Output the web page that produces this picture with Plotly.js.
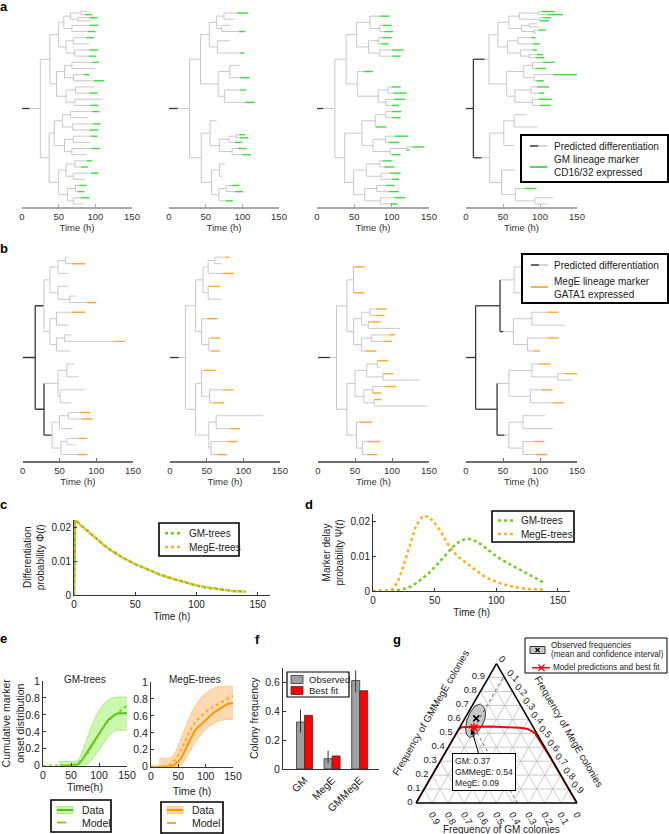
<!DOCTYPE html>
<html><head><meta charset="utf-8">
<script src="https://cdn.plot.ly/plotly-3.0.1.min.js"></script>
<style>html,body{margin:0;padding:0;background:#fff}#chart{width:669px;height:834px}</style>
</head><body><div id="chart"></div>
<script>
// ================= DATA =================
// Lineage trees: internal cell = [end time, upper daughter, lower daughter]
// leaf = end time, or [end time, marker onset time]
const treeA1 = [25,
 [38,
  [50,
   [57, [66, [80, 88, [96,86]], [76, [103,92], 94]], [68, [104,92], [100,90]]],
   [60, [70, [98,88], 92], [72, [104,92], [101,91]]]],
  [47,
   [58, [68, [105,96], 100], [70, [92,84], [112,98]]],
   [60, [73, 100, [103,92]], [72, 110, [104,93]]]]],
 [37,
  [44,
   [55, [66, [106,96], 90], [69, [107,97], [104,92]]],
   [58, [70, [103,94], 93], [68, [106,95], 88]]],
  [50,
   [60, [72, [96,88], [90,80]], [70, [104,94], 86]],
   [62, [73, [88,78], [85,76]], [70, [92,80], 84]]]]];
const treeA2 = [28,
 [43,
  [55, [65, [75, [108,93], 90], [72, 84, [104,95]]], [66, 83, [103,97]]],
  [67, [83, 96, [110,97]], [76, [105,97], [117,104]]]],
 [44,
  [56, 65, [69, [82, [92, [104,96], [108,97]], [100,90]], [86, [106,94], [112,100]]]],
  [58, [69, 77, 73], [68, [78, [96,86], [101,90]], [87,77]]]]];
const treeA3 = [24,
 [39,
  [53, [71, [97,85], [84, [100,88], [102,90]]], [69, [82, [100,88], [96,86]], [84, [116,100], [112,101]]]],
  [54, [75,62], [82, [95, [112,100], [120,102]], [92, [118,104], [110,100]]]]],
 [37,
  [60, [78, [92, [113,100], [112,100]], [93,79]], [75, [92, [122,104], [110,96]], [98, [120, [144,128], [124,110]], [112,100]]]],
  [49, [66, [84, [100,88], [104,90]], [86, [112,98], [110,100]]], [64, [80, [104,92], [110,96]], [85, [118,104], [108,98]]]]]];
const treeA4 = [10,
 [31,
  [43,
   [58, [72, [98, [120,102], [131,110]], [100, [115,104], [112,100]]], [75, [86, 96, 99], [92, [108,98], 95]]],
   [56, [70, [94,88], [100,90]], [74, [96,90], [85, [104,96], [106,94]]]]],
  [55,
   [78, [90, [120,104], [108,94]], [92, [150,118], [105,95]]],
   [66, [88, [112,96], [106,98]], [90, [116,98], [114,100]]]]],
 [32, [51, [65, 82, 97], 65], [48, 65, [67, [95,80], [93, 118, 111]]]]];
const treeB1 = [17,
 [29, [37, [48, [58, 61, [85,67]], 62], [48, 62, [64, 72, [100,87]]]],
      [37, [46, [85,67], 62], [46, [57, 66, [139,123]], 64]]],
 [29, [48, [60, 70, 76], [51, 84, 66]],
      [40, [50, [62, [92,78], [95,80]], 68], [52, [60, [88,75], 72], [88,75]]]]];
const treeB2 = [21,
 [35, [45, [52, [61, [81,76], 70], [87,72]], [52, [68,52], 70]],
      [43, [65,50], [53, [68,56], [68,56]]]],
 [35, [43, [63,46], [54, [87,72], [74,60]]],
      [53, [63, 127, [95,82]], [56, [92,78], [78,64]]]]];
const treeB3 = [25,
 [39, [48, [63,48], [63,48]],
      [48, [59, [70, [93,78], [90,78]], [68, [85,68], 111]], [59, [72, [104,96], [100,88]], [79,64]]]],
 [39, [50, [66, [80, [95,79], 84], [88, [102,88], 137]], [62, [74, [106,90], [86,70]], [76, [86,70], 148]]],
      [52, [73,56], [60, [84,67], [80,66]]]]];
const treeB4 = [13,
 [46, [65, [75, 90, 88], [75, 92, 86]],
      [64, [89, [125,110], 134], [83, [125,110], [100,91]]]],
 [42, [58, [89, [114,98], [124, [150,134], 143]], [87, [117,102], [132,117]]],
      [58, [77, 107, 118], [77, [106,91], [110,94]]]]];
// predicted differentiation (dark) segments: cell id -> dark until time
const darkA1Cells = [1],        darkA1Until = [10];
const darkA2Cells = [1],        darkA2Until = [12];
const darkA3Cells = [1],        darkA3Until = [8];
const darkA4Cells = [1,2,3],    darkA4Until = [10,25,21];
const darkB1Cells = [1,2,3,7],  darkB1Until = [17,28,29,39];
const darkB2Cells = [1],        darkB2Until = [12];
const darkB3Cells = [1],        darkB3Until = [16];
const darkB4Cells = [1,2,3,5,7],darkB4Until = [13,46,42,50,52];
const treeTicks = [0,50,100,150];

// c: differentiation probability
const phiTime = [0,1,2,5,10,15,20,25,30,40,50,60,70,80,90,100,110,120,130,140];
const phiGM   = [0,0.0224,0.0222,0.021,0.0195,0.0178,0.0162,0.0147,0.0134,0.0111,0.0092,0.0076,0.0061,0.0049,0.0038,0.0028,0.0021,0.0016,0.0012,0.001];
const phiMegE = [0,0.0223,0.0221,0.0209,0.0194,0.0178,0.0162,0.0147,0.0134,0.0111,0.0092,0.0076,0.0061,0.0049,0.0038,0.0029,0.0022,0.0016,0.0012,0.001];
// d: marker delay probability
const psiTime = [0,5,10,15,20,25,30,35,40,45,50,55,60,65,70,75,80,85,90,95,100,105,110,115,120,125,130,135,138];
const psiGM   = [0,0,0,0,0.0002,0.0006,0.0012,0.0022,0.0035,0.005,0.0068,0.0088,0.0108,0.0127,0.0141,0.0149,0.0148,0.0139,0.0127,0.0113,0.0099,0.0088,0.0078,0.0068,0.0058,0.0049,0.004,0.0031,0.0025];
const psiMegE = [0,0,0,0.0003,0.0025,0.0075,0.0135,0.0188,0.0213,0.0213,0.0195,0.017,0.0138,0.0113,0.0095,0.0082,0.0068,0.0055,0.0042,0.0033,0.0026,0.002,0.0015,0.0011,0.0008,0.0006,0.0005,0.0004,0.0004];
// e: cumulative marker onset
const cumGMDataT  = [30,40,50,55,60,65,70,75,80,85,90,95,100,105,110,115,120,125,130,135,140,145,150];
const cumGMData   = [0,0,0,0.005,0.01,0.03,0.07,0.12,0.17,0.22,0.28,0.33,0.38,0.43,0.48,0.53,0.56,0.59,0.61,0.62,0.62,0.62,0.62];
const cumGMModelT = [0,10,20,30,40,50,60,70,80,90,100,110,120,130,140,150];
const cumGMModel  = [0,0,0,0,0,0.005,0.02,0.07,0.15,0.26,0.37,0.47,0.55,0.6,0.65,0.71];
const cumGMBandT  = [28,40,50,60,65,70,75,80,85,90,95,100,105,110,115,120,125,130,135,140,145,150];
const cumGMHi     = [0.05,0.05,0.05,0.05,0.08,0.16,0.25,0.34,0.44,0.52,0.59,0.65,0.7,0.74,0.77,0.79,0.8,0.81,0.81,0.81,0.81,0.81];
const cumGMLo     = [0,0,0,0,0,0,0.005,0.02,0.05,0.09,0.14,0.19,0.24,0.29,0.33,0.37,0.4,0.42,0.42,0.42,0.42,0.42];
const cumMeDataT  = [0,10,20,30,40,45,50,55,60,65,70,75,80,85,90,95,100,105,110,115,120,125,130,135,140,145,150];
const cumMeData   = [0,0,0,0,0.01,0.03,0.06,0.1,0.16,0.23,0.3,0.37,0.42,0.46,0.49,0.53,0.56,0.59,0.62,0.64,0.66,0.68,0.7,0.72,0.74,0.745,0.75];
const cumMeModelT = [0,10,20,30,35,40,45,50,55,60,65,70,75,80,85,90,95,100,105,110,115,120,125,130,135,140,145,150];
const cumMeModel  = [0,0,0,0.01,0.03,0.05,0.09,0.14,0.2,0.27,0.34,0.41,0.47,0.52,0.56,0.59,0.62,0.65,0.67,0.69,0.71,0.72,0.74,0.76,0.78,0.8,0.82,0.84];
const cumMeBandT  = [15,25,35,40,45,50,55,60,65,70,75,80,85,90,95,100,105,110,115,120,130,140,150];
const cumMeHi     = [0.09,0.1,0.1,0.13,0.18,0.25,0.33,0.42,0.5,0.58,0.65,0.71,0.76,0.8,0.84,0.87,0.89,0.91,0.93,0.94,0.95,0.95,0.95];
const cumMeLo     = [0,0,0,0,0,0,0.02,0.06,0.11,0.17,0.23,0.28,0.33,0.37,0.41,0.44,0.47,0.49,0.51,0.53,0.55,0.56,0.56];
const cumTicks = [0,0.2,0.4,0.6,0.8,1];
// f: colony frequencies
const colonyTypes = ['GM','MegE','GMMegE'];
const observedFreq = [0.324,0.071,0.61];
const observedErrUp = [0.086,0.055,0.07];
const observedErrDown = [0.074,0.031,0.08];
const bestFitFreq = [0.37,0.09,0.54];
// g: ternary (GMMegE, GM, MegE)
const modelGMMegE = [0,0.3,0.5,0.524,0.543,0.547,0.549,0.543,0.539,0.533,0.516,0.5,0.332,0];
const modelGM     = [1,0.7,0.5,0.476,0.445,0.37,0.266,0.165,0.085,0.046,0.022,0.011,0.002,0];
const modelMegE   = [0,0,0,0,0.012,0.083,0.185,0.292,0.376,0.421,0.462,0.489,0.666,1];
const ellGMMegE = [0.710,0.685,0.653,0.610,0.560,0.513,0.481,0.470,0.491,0.538,0.595,0.653,0.696,0.710];
const ellGM     = [0.245,0.235,0.242,0.266,0.307,0.358,0.402,0.432,0.441,0.423,0.386,0.335,0.285,0.245];
const ellMegE   = [0.045,0.080,0.105,0.124,0.133,0.129,0.117,0.098,0.068,0.039,0.019,0.012,0.019,0.045];
const ternTicks = [0,0.1,0.2,0.3,0.4,0.5,0.6,0.7,0.8,0.9];

// ================= HELPERS =================
const W = 669, H = 834;
const FONT = '"Liberation Sans", Arial, Helvetica, sans-serif';
const X = p => p / W, Y = p => 1 - p / H;
const GRAY = '#c8c8c8', DARK = '#383838', GREEN = '#3cdc3c', ORANGE = '#ffaa2a';
const traces = [], shapes = [], annotations = [];
const layout = {
  width: W, height: H, margin: {l:0, r:0, t:0, b:0},
  paper_bgcolor: '#fff', plot_bgcolor: 'rgba(0,0,0,0)', showlegend: false,
  font: {family: FONT, size: 10, color: '#222'},
  barmode: 'group', bargap: 0.42, bargroupgap: 0
};

function cellY(id) {
  const g = Math.floor(Math.log2(id) + 1e-9);
  const k = id - Math.pow(2, g);
  return (k + 0.5) / Math.pow(2, g);
}
function treeTraces(tree, darkCells, darkUntil, markColor, n) {
  const dark = {};
  darkCells.forEach((c, i) => dark[c] = darkUntil[i]);
  const G = {x:[], y:[]}, M = {x:[], y:[]}, D = {x:[], y:[]};
  const seg = (o, x0, x1, y0, y1) => { o.x.push(x0, x1, null); o.y.push(y0, y1, null); };
  function walk(node, id, birth) {
    let end, mark = null, kids = null;
    if (typeof node === 'number') end = node;
    else if (node.length === 2) { end = node[0]; mark = node[1]; }
    else { end = node[0]; kids = [node[1], node[2]]; }
    const y = cellY(id);
    let t = birth;
    const dt = dark[id];
    if (dt !== undefined) { const de = Math.min(dt, end); seg(D, t, de, y, y); t = de; }
    if (mark !== null) {
      const ms = Math.max(mark, t);
      if (ms > t) seg(G, t, ms, y, y);
      seg(M, ms, end, y, y);
    } else if (end > t) seg(G, t, end, y, y);
    if (kids) {
      seg((dt !== undefined && dt >= end) ? D : G, end, end, cellY(2*id), cellY(2*id+1));
      walk(kids[0], 2*id, end);
      walk(kids[1], 2*id+1, end);
    }
  }
  walk(tree, 1, 0);
  const xa = 'x' + n, ya = 'y' + n;
  traces.push({type:'scatter', mode:'lines', x:G.x, y:G.y, xaxis:xa, yaxis:ya, line:{color:GRAY, width:1}, hoverinfo:'skip'});
  traces.push({type:'scatter', mode:'lines', x:M.x, y:M.y, xaxis:xa, yaxis:ya, line:{color:markColor, width:1.4}, hoverinfo:'skip'});
  traces.push({type:'scatter', mode:'lines', x:D.x, y:D.y, xaxis:xa, yaxis:ya, line:{color:DARK, width:1.3}, hoverinfo:'skip'});
}
function axKey(prefix, n) { return prefix + (n === 1 ? '' : n); }

// ================= TREES (a, b) =================
const trees = [
  [treeA1, darkA1Cells, darkA1Until, GREEN], [treeA2, darkA2Cells, darkA2Until, GREEN],
  [treeA3, darkA3Cells, darkA3Until, GREEN], [treeA4, darkA4Cells, darkA4Until, GREEN],
  [treeB1, darkB1Cells, darkB1Until, ORANGE], [treeB2, darkB2Cells, darkB2Until, ORANGE],
  [treeB3, darkB3Cells, darkB3Until, ORANGE], [treeB4, darkB4Cells, darkB4Until, ORANGE]];
const treeBoxes = [[22,132,10,207],[169,279,10,207],[317,429,10,207],[466,577,10,207],
                   [22.7,133,254,461],[170,280,254,461],[318,429,254,461],[466,577,254,461]];
trees.forEach((t, i) => {
  const n = i + 1, b = treeBoxes[i], isA = i < 4;
  treeTraces(t[0], t[1], t[2], t[3], n);
  layout[axKey('xaxis', n)] = {
    domain:[X(b[0]), X(b[1])], range:[0,150], anchor:'y'+n, showgrid:false, zeroline:false,
    showline:true, linecolor: isA ? '#a9a9a9' : '#6e6e6e', linewidth: isA ? 2 : 1.5,
    ticks:'inside', ticklen:3, tickcolor: isA ? '#a9a9a9' : '#6e6e6e', tickvals:treeTicks,
    tickfont:{size:9.5, color:'#333'}, title:{text:'Time (h)', font:{size:9.5, color:'#333'}, standoff:2}
  };
  layout[axKey('yaxis', n)] = {domain:[Y(b[3]), Y(b[2])], range:[1,0], anchor:'x'+n, visible:false};
});

// ================= c =================
traces.push({type:'scatter', mode:'lines', x:phiTime, y:phiGM, xaxis:'x9', yaxis:'y9', line:{color:'#6fcf17', width:2.5, dash:'3px,3px'}});
traces.push({type:'scatter', mode:'lines', x:phiTime, y:phiMegE, xaxis:'x9', yaxis:'y9', line:{color:'#ffae1a', width:2.5, dash:'0px,3px,3px,0px'}});
const baseX = {showgrid:false, zeroline:false, showline:true, linecolor:'#333', linewidth:1, ticks:'inside', ticklen:3, tickcolor:'#333', tickfont:{size:10, color:'#222'}};
layout.xaxis9 = Object.assign({}, baseX, {domain:[X(74),X(270)], range:[0,160], anchor:'y9', tickvals:treeTicks, title:{text:'Time (h)', font:{size:10}, standoff:3}});
layout.yaxis9 = Object.assign({}, baseX, {domain:[Y(595),Y(519.6)], range:[0,0.0225], anchor:'x9', tickvals:[0,0.01,0.02], ticktext:['0','0.01','0.02'], title:{text:'Differentiation<br>probability Φ(<i>t</i>)', font:{size:10}, standoff:5}});

// ================= d =================
traces.push({type:'scatter', mode:'lines', x:psiTime, y:psiGM, xaxis:'x10', yaxis:'y10', line:{color:'#6fcf17', width:2.5, dash:'3px,3px'}});
traces.push({type:'scatter', mode:'lines', x:psiTime, y:psiMegE, xaxis:'x10', yaxis:'y10', line:{color:'#ffae1a', width:2.5, dash:'3px,3px'}});
layout.xaxis10 = Object.assign({}, baseX, {domain:[X(373),X(570.3)], range:[0,160], anchor:'y10', tickvals:treeTicks, title:{text:'Time (h)', font:{size:10}, standoff:3}});
layout.yaxis10 = Object.assign({}, baseX, {domain:[Y(591),Y(514)], range:[0,0.022], anchor:'x10', tickvals:[0,0.01,0.02], ticktext:['0','0.01','0.02'], title:{text:'Marker delay<br>probability Ψ(<i>t</i>)', font:{size:10}, standoff:5}});

// ================= e =================
function cumPanel(n, bandT, lo, hi, dT, d, mT, m, fill, edge, lineC, modelC) {
  const xa = 'x'+n, ya = 'y'+n;
  traces.push({type:'scatter', mode:'lines', x:bandT, y:lo, xaxis:xa, yaxis:ya, line:{color:edge, width:1}});
  traces.push({type:'scatter', mode:'lines', x:bandT, y:hi, xaxis:xa, yaxis:ya, fill:'tonexty', fillcolor:fill, line:{color:edge, width:1}});
  traces.push({type:'scatter', mode:'lines', x:dT, y:d, xaxis:xa, yaxis:ya, line:{color:lineC, width:2}});
  traces.push({type:'scatter', mode:'lines', x:mT, y:m, xaxis:xa, yaxis:ya, line:{color:modelC, width:2, dash:'3px,3px'}});
}
cumPanel(11, cumGMBandT, cumGMLo, cumGMHi, cumGMDataT, cumGMData, cumGMModelT, cumGMModel, 'rgba(160,240,110,0.55)', '#a8ee80', '#52c41a', '#7fd11f');
cumPanel(12, cumMeBandT, cumMeLo, cumMeHi, cumMeDataT, cumMeData, cumMeModelT, cumMeModel, 'rgba(255,180,100,0.5)', '#ffc880', '#ff9800', '#ffaa1a');
const eX = Object.assign({}, baseX, {tickfont:{size:10.5, color:'#222'}, tickvals:treeTicks, range:[0,150]});
const eY = Object.assign({}, baseX, {tickfont:{size:10.5, color:'#222'}, tickvals:cumTicks, ticktext:cumTicks.map(String), range:[0,1]});
layout.xaxis11 = Object.assign({}, eX, {domain:[X(43),X(127)], anchor:'y11', title:{text:'Time(h)', font:{size:10.5}, standoff:2}});
layout.yaxis11 = Object.assign({}, eY, {domain:[Y(765.7),Y(681)], anchor:'x11', title:{text:'Cumulative marker<br>onset distribution', font:{size:10.5}, standoff:4}});
layout.xaxis12 = Object.assign({}, eX, {domain:[X(151),X(233)], anchor:'y12', title:{text:'Time (h)', font:{size:10.5}, standoff:6}});
layout.yaxis12 = Object.assign({}, eY, {domain:[Y(766.7),Y(682)], anchor:'x12'});

// ================= f =================
traces.push({type:'bar', x:colonyTypes, y:observedFreq, xaxis:'x13', yaxis:'y13', name:'Observed',
  marker:{color:'#a0a0a0', line:{color:'#333', width:0.8}},
  error_y:{type:'data', symmetric:false, array:observedErrUp, arrayminus:observedErrDown, width:0, thickness:1, color:'#333'}});
traces.push({type:'bar', x:colonyTypes, y:bestFitFreq, xaxis:'x13', yaxis:'y13', name:'Best fit',
  marker:{color:'#ff0000', line:{color:'#333', width:0.8}}});
layout.xaxis13 = Object.assign({}, baseX, {domain:[X(283),X(379)], range:[-0.78,2.7], anchor:'y13', type:'category', tickangle:-45, ticks:'', tickfont:{size:10.5}});
layout.yaxis13 = Object.assign({}, baseX, {domain:[Y(769),Y(667.5)], range:[0,0.7], anchor:'x13', tickvals:[0,0.2,0.4,0.6], ticktext:['0','0.2','0.4','0.6'], tickfont:{size:10.5}, title:{text:'Colony frequency', font:{size:10.5}, standoff:4}});

// ================= g (ternary) =================
const ternAx = (angle, len) => ({tickvals:ternTicks, ticktext:ternTicks.map(String), showgrid:true, gridcolor:'#c2c2c2', gridwidth:0.8,
  linecolor:'#000', linewidth:1.6, ticks:'outside', ticklen:len, tickcolor:'rgba(0,0,0,0)', tickfont:{size:9.5, color:'#222'}, tickangle:angle, title:{text:''}});
layout.ternary = {domain:{x:[X(416),X(577)], y:[Y(803),Y(663.6)]}, sum:1, bgcolor:'rgba(0,0,0,0)',
  aaxis:ternAx(0, 1), baxis:ternAx(60, 0.5), caxis:ternAx(45, 5)};
traces.push({type:'scatterternary', mode:'lines', a:ellGMMegE, b:ellGM, c:ellMegE, fill:'toself', fillcolor:'#c9c9c9', line:{color:'#333', width:1}});
traces.push({type:'scatterternary', mode:'lines', a:[bestFitFreq[2], 1-bestFitFreq[1]], b:[bestFitFreq[0], 0], c:[bestFitFreq[1], bestFitFreq[1]], line:{color:'#444', width:0.8, dash:'dot'}});
traces.push({type:'scatterternary', mode:'lines', a:[bestFitFreq[2], 0], b:[bestFitFreq[0], bestFitFreq[0]], c:[bestFitFreq[1], 1-bestFitFreq[0]], line:{color:'#444', width:0.8, dash:'dot'}});
traces.push({type:'scatterternary', mode:'lines', a:modelGMMegE, b:modelGM, c:modelMegE, line:{color:'#ff0000', width:2}});
traces.push({type:'scatterternary', mode:'markers', a:[observedFreq[2]], b:[observedFreq[0]], c:[observedFreq[1]], marker:{symbol:'x-thin-open', size:6, color:'#000', line:{color:'#000', width:1.6}}});
traces.push({type:'scatterternary', mode:'markers', a:[bestFitFreq[2]], b:[bestFitFreq[0]], c:[bestFitFreq[1]], marker:{symbol:'asterisk-open', size:8, color:'#ff0000', line:{color:'#ff0000', width:1.5}}});

// ================= decorations =================
function pxLine(x0,y0,x1,y1,color,width,dash){shapes.push({type:'line',xref:'paper',yref:'paper',x0:X(x0),y0:Y(y0),x1:X(x1),y1:Y(y1),line:{color:color,width:width,dash:dash||'solid'}});}
function pxRect(x0,y0,x1,y1,fill,lc,lw){shapes.push({type:'rect',xref:'paper',yref:'paper',x0:X(x0),y0:Y(y0),x1:X(x1),y1:Y(y1),fillcolor:fill,line:{color:lc,width:lw}});}
function txt(x,y,text,opt){annotations.push(Object.assign({xref:'paper',yref:'paper',x:X(x),y:Y(y),text:text,showarrow:false,xanchor:'left',yanchor:'middle',font:{size:10,family:FONT,color:'#222'}},opt||{}));}

// panel letters
[['a',4,7],['b',3.5,249],['c',3.5,504],['d',308.5,504],['e',3.5,638.7],['f',257.5,639.3],['g',396.7,639]].forEach(p =>
  txt(p[1], p[2], '<b>'+p[0]+'</b>', {xanchor:'center', font:{size:13, family:FONT, color:'#000'}}));

// legend a
pxRect(521,135,668,182,'#fff','#000',2);
pxLine(530,146,538,146,DARK,1.5); pxLine(538,146,547,146,GRAY,1.5);
txt(552,146,'Predicted differentiation');
pxLine(530,167,547,167,GREEN,1.8);
txt(552,165.5,'GM lineage marker<br>CD16/32 expressed',{align:'left'});
// legend b
pxRect(522,254,668,303,'#fff','#000',2);
pxLine(531,265,539,265,DARK,1.5); pxLine(539,265,548,265,GRAY,1.5);
txt(552,265,'Predicted differentiation');
pxLine(531,287,548,287,ORANGE,1.8);
txt(552,287.5,'MegE lineage marker<br>GATA1 expressed',{align:'left'});
// legend c
pxRect(159,523,239,556,'#fff','#000',1.6);
pxLine(165,533.3,182,533.3,'#6fcf17',2.5,'dot'); txt(187,533.3,'GM-trees');
pxLine(165,547,182,547,'#ffae1a',2.5,'dot'); txt(187,547,'MegE-trees');
// legend d
pxRect(492,511,574,542,'#fff','#000',1.6);
pxLine(498,520.5,515,520.5,'#6fcf17',2.5,'dot'); txt(519,520.5,'GM-trees');
pxLine(498,534,515,534,'#ffae1a',2.5,'dot'); txt(519,534,'MegE-trees');
// e subplot titles
txt(85,679,'GM-trees',{xanchor:'center'});
txt(195,679,'MegE-trees',{xanchor:'center'});
// legend e GM
pxRect(51,800,111,832,'#fff','#000',1.6);
pxRect(57,806.5,73,813.5,'rgba(160,240,110,0.55)','#a8ee80',1); pxLine(57,810,73,810,'#52c41a',2);
txt(80,810,'Data',{font:{size:10.5,family:FONT,color:'#222'}});
pxLine(57,822.5,73,822.5,'#7fd11f',2,'dash'); txt(80,822.5,'Model',{font:{size:10.5,family:FONT,color:'#222'}});
// legend e MegE
pxRect(161,802,223,833,'#fff','#000',1.6);
pxRect(167,806.5,183,813.5,'rgba(255,180,100,0.5)','#ffc880',1); pxLine(167,810,183,810,'#ff9800',2);
txt(190,810,'Data',{font:{size:10.5,family:FONT,color:'#222'}});
pxLine(167,823,183,823,'#ffaa1a',2,'dash'); txt(190,823,'Model',{font:{size:10.5,family:FONT,color:'#222'}});
// legend f
pxRect(287,672,349,697,'#fff','#000',1.2);
pxRect(291,675.5,303,683.5,'#a0a0a0','#333',0.8); txt(307,679.3,'Observed',{font:{size:9.5,family:FONT,color:'#222'}});
pxRect(291,686.5,303,694.5,'#ff0000','#333',0.8); txt(307,690.5,'Best fit',{font:{size:9.5,family:FONT,color:'#222'}});
// legend g
pxRect(525,638,667,673,'#fff','#000',1);
pxRect(530,646.5,545,653.5,'#c9c9c9','#333',1);
pxLine(535.5,648,539.5,652,'#000',1.2); pxLine(535.5,652,539.5,648,'#000',1.2);
txt(549,645,'Observed frequencies',{font:{size:8.2,family:FONT,color:'#222'}});
txt(549,654.5,'(mean and confidence interval)',{font:{size:8.2,family:FONT,color:'#222'}});
pxLine(532,667.7,550,667.7,'#ff0000',1.5);
pxLine(538.5,664.5,544.5,671,'#ff0000',1.2); pxLine(538.5,671,544.5,664.5,'#ff0000',1.2);
txt(551,667.7,'Model predictions and best fit',{font:{size:8.2,family:FONT,color:'#222'}});
// ternary axis titles
txt(430,713,'Frequency of GMMegE colonies',{xanchor:'center',textangle:-60});
txt(569,731,'Frequency of MegE colonies',{xanchor:'center',textangle:60});
txt(501,829,'Frequency of GM colonies',{xanchor:'center'});
// best fit callout
annotations.push({xref:'paper', yref:'paper', x:X(471.5), y:Y(729.5), ax:12.5, ay:42,
  text:'GM: '+bestFitFreq[0]+'<br>GMMegE: '+bestFitFreq[2]+'<br>MegE: '+bestFitFreq[1],
  align:'left', showarrow:true, arrowhead:2, arrowsize:1, arrowwidth:1, arrowcolor:'#000',
  bordercolor:'#000', borderwidth:1, borderpad:2, bgcolor:'#fff', font:{size:8.6, family:FONT, color:'#222'}});

layout.shapes = shapes;
layout.annotations = annotations;
Plotly.newPlot('chart', traces, layout, {staticPlot:true, displayModeBar:false});
</script>
</body></html>
